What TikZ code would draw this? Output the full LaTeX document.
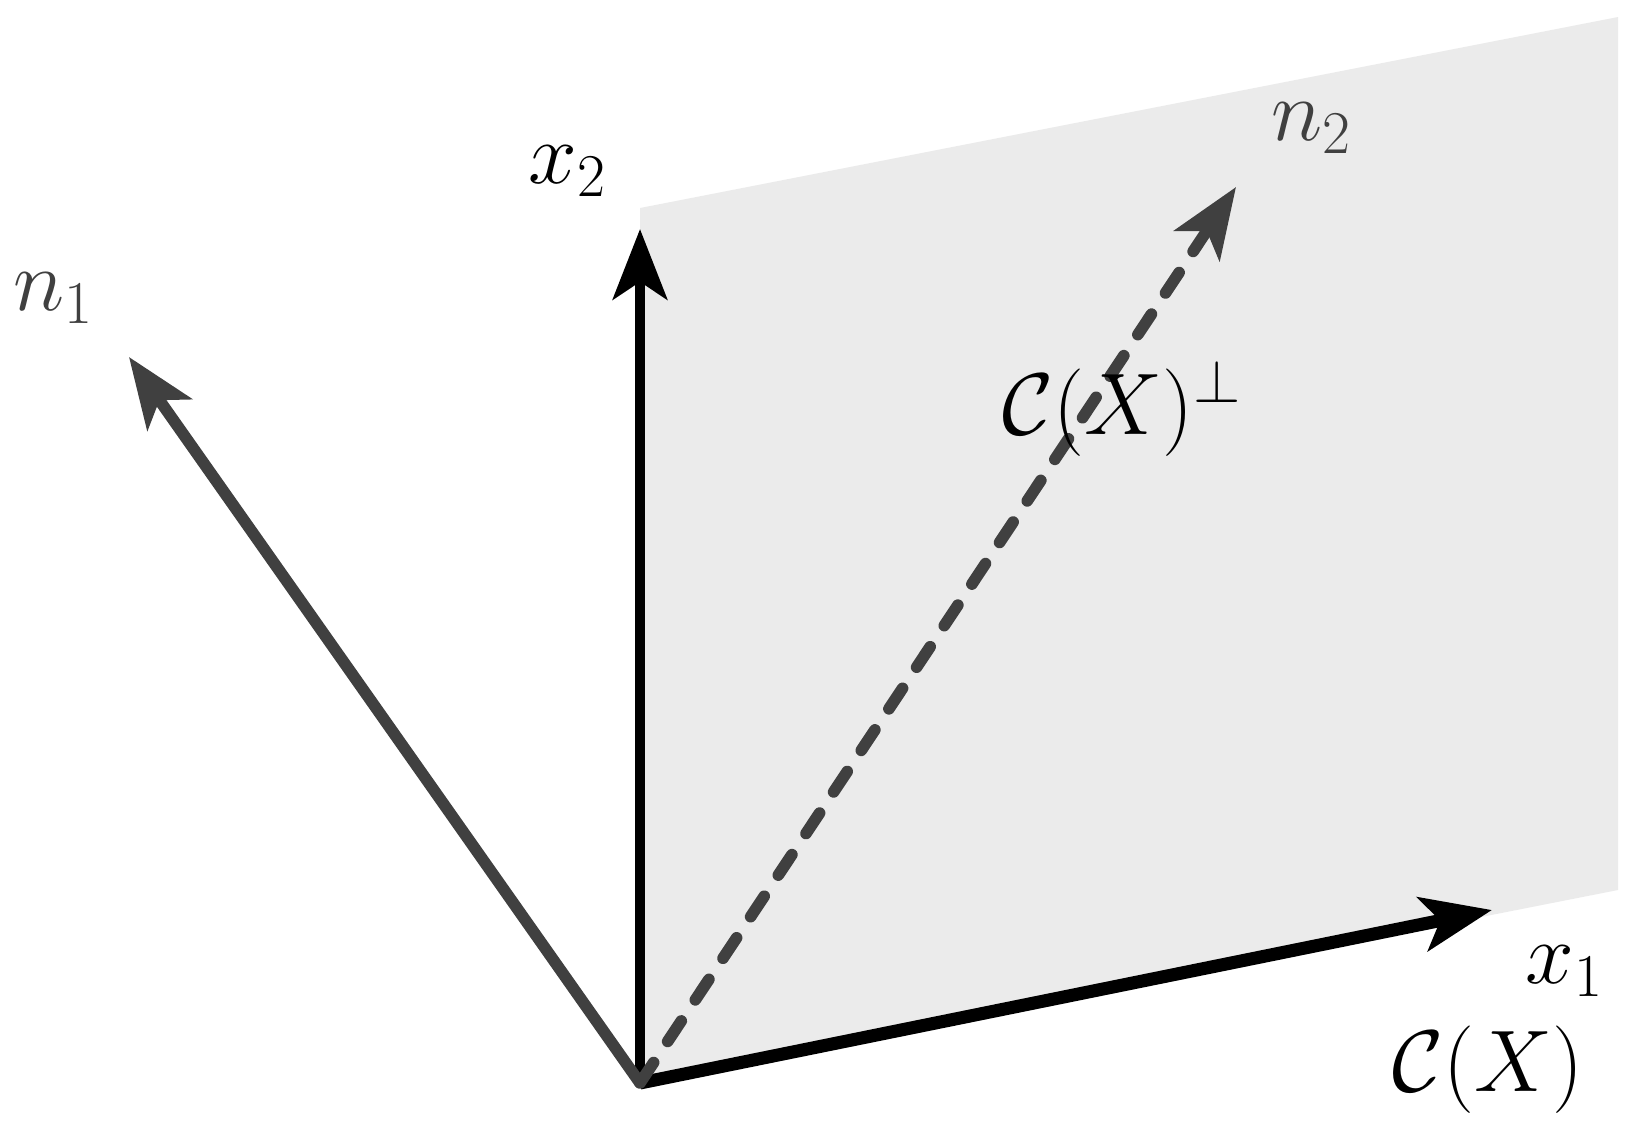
\documentclass[tikz,border=0pt]{standalone}
\usepackage{tikz}
\usetikzlibrary{arrows.meta}
\definecolor{planegray}{RGB}{235,235,235}
\definecolor{normalgray}{RGB}{64,64,64}

\begin{document}
\begin{tikzpicture}[x=0.01cm,y=-0.01cm,
        tip/.style={-{Stealth[length=20pt,width=15.4pt,inset=5pt]}},
        axis/.style={tip,draw=black,line width=3.1pt},
        normal/.style={tip,draw=normalgray,line width=3.3pt},
        lbl/.style={inner sep=0pt,anchor=base west,font=\fontsize{24}{29}\selectfont}]
        \useasboundingbox (0,0) rectangle (1640,1127);
        \coordinate (O) at (640,1083);
        \coordinate (x1tip) at (1492,910);
        \coordinate (x2tip) at (640,229);
        \coordinate (n1tip) at (129,357);
        \coordinate (n2tip) at (1236,187);
        % column space of X
        \fill[planegray] (O) -- (640,208) -- (1618,17) -- (1618,890) -- cycle;
        \draw[axis] (O) -- (x2tip);
        \draw[axis,line width=3.7pt] (O) -- (x1tip);
        \draw[normal] (O) -- (n1tip);
        \draw[normal,line cap=round,dash pattern=on 7pt off 7.2pt] (O) -- (n2tip);
        % labels
        \node[lbl] (x1lbl) at (1525,983) {$x_1$};
        \node[lbl] (x2lbl) at (528,183) {$x_2$};
        \node[lbl,text=normalgray] (n1lbl) at (13,310) {$n_1$};
        \node[lbl,text=normalgray] (n2lbl) at (1271,140) {$n_2$};
        \node[lbl] (collbl) at (1392,1091) {$\mathcal{C}(X)$};
        \node[lbl] (perplbl) at (1002,434) {$\mathcal{C}(X)^{\perp}$};
\end{tikzpicture}
\end{document}
